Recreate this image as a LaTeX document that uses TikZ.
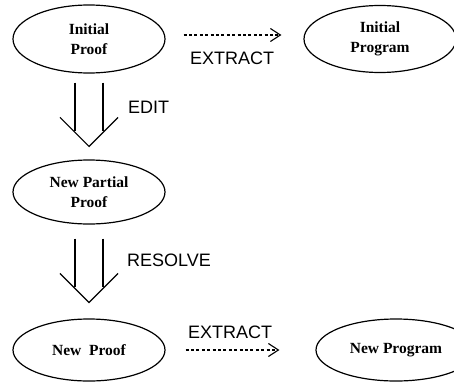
\documentclass[tikz,border=0pt]{standalone}
\usepackage{fontspec}
\setmainfont{Liberation Serif}
\newfontfamily\labelfont{Liberation Sans}
\usetikzlibrary{shapes.geometric,arrows.meta}

\tikzset{
	proofnode/.style={draw, ellipse, line width=1.2pt, inner sep=0pt,
		minimum width=152pt, minimum height=66pt, align=center,
		font=\fontsize{15.5}{20}\selectfont\bfseries},
	extract/.style={line width=1.1pt, dash pattern=on 3pt off 2.4pt,
		-{Straight Barb[length=10pt,width=13pt,line width=1.1pt]}},
	steplabel/.style={font=\fontsize{18}{20}\selectfont\labelfont, inner sep=0pt},
	hollow/.style={line width=1.2pt}
}

\begin{document}
\begin{tikzpicture}[x=1pt,y=1pt]
	\useasboundingbox (0,0) rectangle (454,381);
	
	% proofs on the left
	\node[proofnode, minimum height=68pt] (ip) at (89,342) {Initial\\Proof};
	\node[proofnode, minimum height=64pt] (npp) at (89,189) {New Partial\\Proof};
	\node[proofnode, minimum height=62pt] (np) at (89,31) {New~~Proof};
	
	% programs on the right
	\node[proofnode, minimum height=67pt] (ipg) at (380,342) {Initial\\Program};
	\node[proofnode, minimum width=160pt, minimum height=62pt] (npg) at (396,31) {New Program};
	
	% extraction
	\draw[extract] ([xshift=18,yshift=4]ip.east) -- ([xshift=-22,yshift=4]ipg.west);
	\node[steplabel] (ex1) at (232,323) {EXTRACT};
	\draw[extract] ([xshift=20]np.east) -- ([xshift=-36]npg.west);
	\node[steplabel] (ex2) at (230,49) {EXTRACT};
	
	% edit
	\coordinate (editTop) at ([yshift=-9]ip.south);
	\coordinate (editTip) at ([yshift=13]npp.north);
	\draw[hollow] ([xshift=-14]editTop) -- ([xshift=-14,yshift=15]editTip);
	\draw[hollow] ([xshift=14]editTop) -- ([xshift=14,yshift=15]editTip);
	\draw[hollow] ([xshift=-29,yshift=29]editTip) -- (editTip) -- ([xshift=29,yshift=29]editTip);
	\node[steplabel, anchor=west] (edit) at (128,274) {EDIT};
	
	% resolve
	\coordinate (resTop) at ([yshift=-14]npp.south);
	\coordinate (resTip) at ([yshift=16]np.north);
	\draw[hollow] ([xshift=-14]resTop) -- ([xshift=-14,yshift=15]resTip);
	\draw[hollow] ([xshift=14]resTop) -- ([xshift=14,yshift=15]resTip);
	\draw[hollow] ([xshift=-29,yshift=29]resTip) -- (resTip) -- ([xshift=29,yshift=29]resTip);
	\node[steplabel, anchor=west] (resolve) at (127,121) {RESOLVE};
	
\end{tikzpicture}
\end{document}
